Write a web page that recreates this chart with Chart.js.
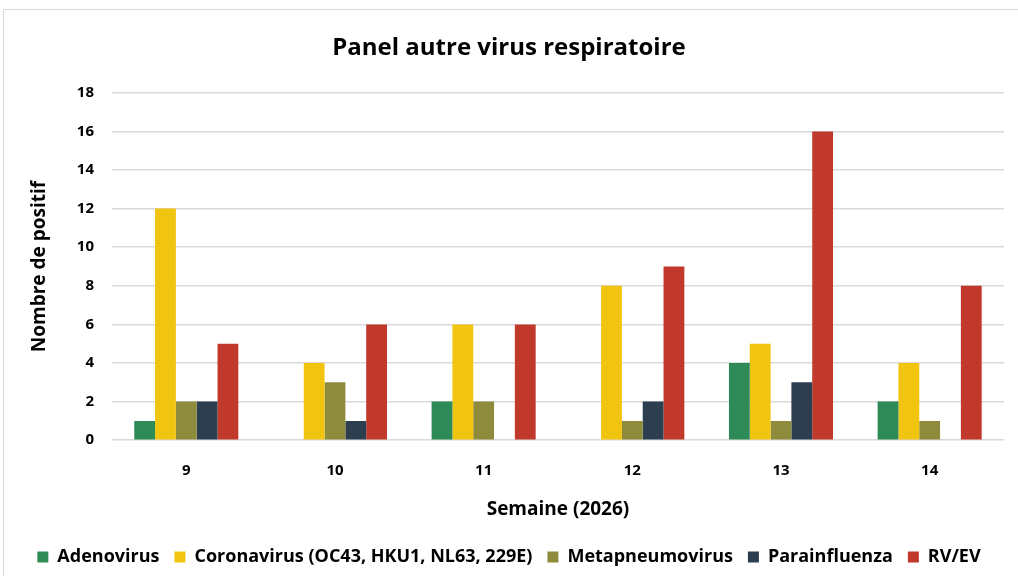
<!DOCTYPE html>
<html><head><meta charset="utf-8">
<script src="https://cdn.jsdelivr.net/npm/chart.js@4"></script>
<style>
html,body{margin:0;padding:0;background:#fff;}
#wrap{position:absolute;left:3px;top:9px;width:1030px;height:580px;border:1px solid #d9d9d9;box-sizing:border-box;}
canvas{position:absolute;left:0;top:0;}
</style></head><body>
<div id="wrap"></div>
<canvas id="c" width="1018" height="576"></canvas>
<script>
const categories = ["9","10","11","12","13","14"];
const adenovirus = [1,0,2,0,4,2];
const coronavirus = [12,4,6,8,5,4];
const metapneumovirus = [2,3,2,1,1,1];
const parainfluenza = [2,1,0,2,3,0];
const rvev = [5,6,6,9,16,8];
const seriesNames = ["Adenovirus","Coronavirus (OC43, HKU1, NL63, 229E)","Metapneumovirus","Parainfluenza","RV/EV"];
const colors = ["#2e8b57","#f1c40f","#8e8b3d","#2c3e50","#c0392b"];
const values = [adenovirus,coronavirus,metapneumovirus,parainfluenza,rvev];
const F = "'Open Sans', sans-serif";
new Chart(document.getElementById('c'), {
  type:'bar',
  data:{labels:categories, datasets: values.map((v,i)=>({label:seriesNames[i],data:v,backgroundColor:colors[i],categoryPercentage:0.7,barPercentage:1}))},
  options:{
    responsive:false, animation:false,
    layout:{padding:{left:14,right:14,top:34,bottom:0}},
    plugins:{
      title:{display:true,text:"Panel autre virus respiratoire",color:"#000",font:{family:F,size:24,weight:'bold'},padding:{top:0,bottom:30}},
      legend:{position:'bottom',labels:{boxWidth:11,boxHeight:11,color:"#000",font:{family:F,size:18,weight:'bold'},padding:15},padding:0},
      tooltip:{enabled:false}
    },
    scales:{
      x:{grid:{display:false},border:{display:false},ticks:{color:"#000",font:{family:F,size:15,weight:'bold'},padding:14},
         title:{display:true,text:"Semaine (2026)",color:"#000",font:{family:F,size:19,weight:'bold'},padding:{top:4,bottom:12}}},
      y:{min:0,max:18,ticks:{stepSize:2,color:"#000",font:{family:F,size:15,weight:'bold'},padding:18},
         grid:{color:"#d9d9d9",lineWidth:1.5,drawTicks:false},border:{display:false},
         title:{display:true,text:"Nombre de positif",color:"#000",font:{family:F,size:19,weight:'bold'},padding:{top:14,bottom:8}}}
    }
  }
});
</script></body></html>
